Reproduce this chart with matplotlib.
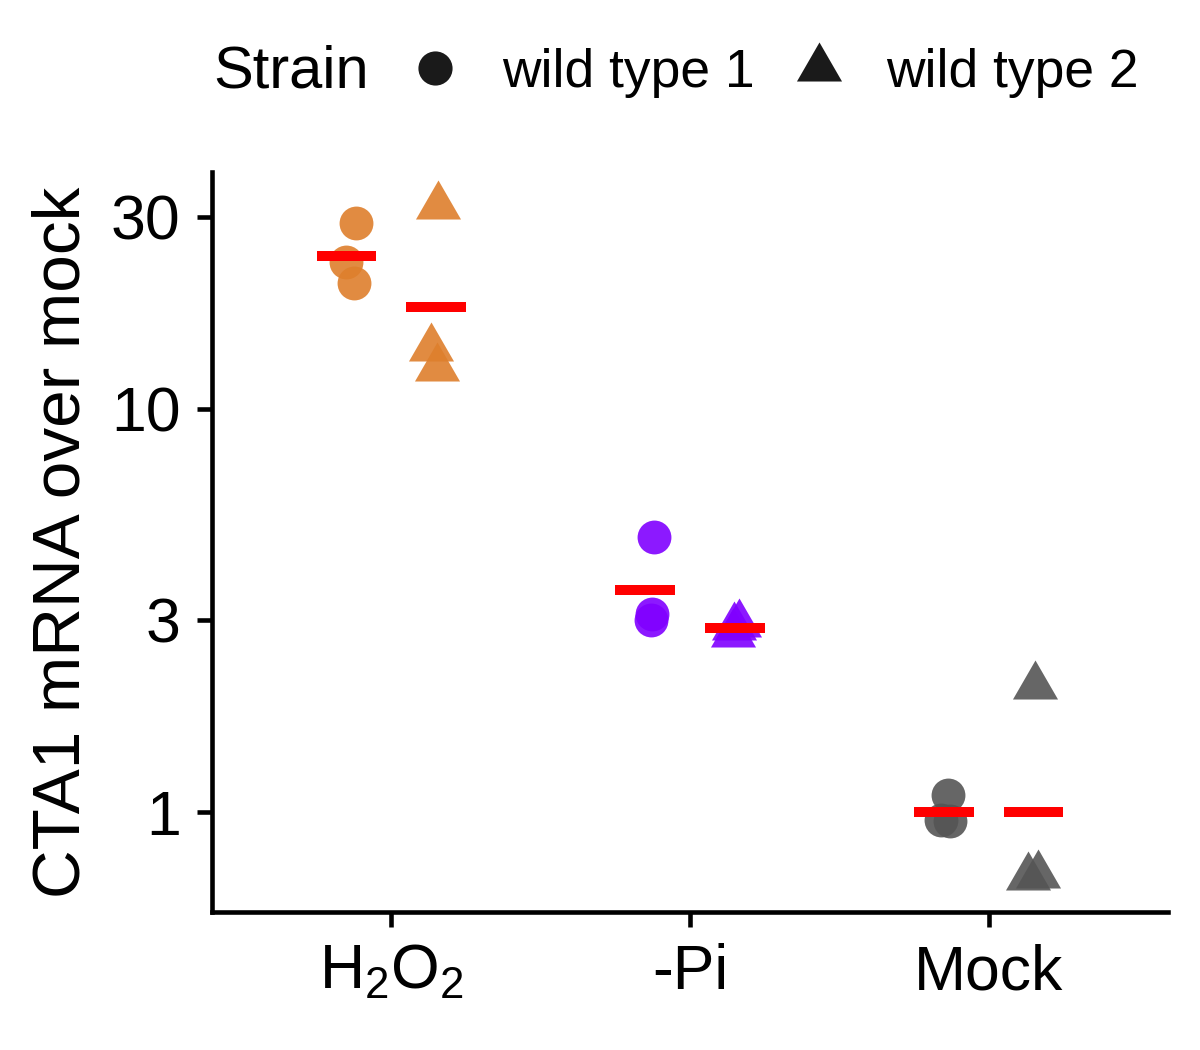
import numpy as np
import matplotlib
matplotlib.use("Agg")
import matplotlib.pyplot as plt
from matplotlib.path import Path
from matplotlib.lines import Line2D

plt.rcParams["font.family"] = ["Liberation Sans", "DejaVu Sans"]
plt.rcParams["mathtext.fontset"] = "custom"
plt.rcParams["mathtext.rm"] = "Liberation Sans"

# data (fold change over mock)
treatments = ["H2O2", "-Pi", "Mock"]
tick_labels = [r"H$_\mathregular{2}$O$_\mathregular{2}$", "-Pi", "Mock"]
strains = ["wild type 1", "wild type 2"]

h2o2_wt1 = [28.9, 23.2, 20.5]
h2o2_wt2 = [31.9, 14.15, 12.6]
pi_wt1 = [4.82, 3.10, 2.995]
pi_wt2 = [2.93, 2.88, 2.765]
mock_wt1 = [1.10, 0.953, 0.952]
mock_wt2 = [2.06, 0.69, 0.70]

# horizontal jitter of each point (category units), as seen in the picture
jit_h2o2_wt1 = [0.033, -0.003, 0.024]
jit_h2o2_wt2 = [0.006, -0.018, 0.002]
jit_pi_wt1 = [0.030, 0.024, 0.019]
jit_pi_wt2 = [0.013, -0.002, -0.005]
jit_mock_wt1 = [0.015, -0.011, 0.020]
jit_mock_wt2 = [0.005, -0.017, 0.014]

values = {
    ("H2O2", "wild type 1"): (h2o2_wt1, jit_h2o2_wt1),
    ("H2O2", "wild type 2"): (h2o2_wt2, jit_h2o2_wt2),
    ("-Pi", "wild type 1"): (pi_wt1, jit_pi_wt1),
    ("-Pi", "wild type 2"): (pi_wt2, jit_pi_wt2),
    ("Mock", "wild type 1"): (mock_wt1, jit_mock_wt1),
    ("Mock", "wild type 2"): (mock_wt2, jit_mock_wt2),
}

colors = {"H2O2": "#de7f2c", "-Pi": "#8000ff", "Mock": "#555555"}

# triangle centred on its centroid, like R's pch 17
tri = Path([(0, 1), (-0.866, -0.5), (0.866, -0.5), (0, 1)],
           [Path.MOVETO, Path.LINETO, Path.LINETO, Path.CLOSEPOLY])
markers = {"wild type 1": ("o", 66), "wild type 2": (tri, 156)}
dodge = {"wild type 1": -0.15, "wild type 2": 0.15}

fig = plt.figure(figsize=(4, 3.5), dpi=300)
ax = fig.add_axes([0.1767, 0.1314, 0.7966, 0.7048])

for i, t in enumerate(treatments):
    for s in strains:
        ys, jit = values[(t, s)]
        xs = i + dodge[s] + np.array(jit)
        m, size = markers[s]
        ax.scatter(xs, ys, marker=m, s=size, color=colors[t], alpha=0.9,
                   linewidths=0, zorder=2)
        gmean = 10 ** np.mean(np.log10(ys))
        xc = i + dodge[s]
        ax.hlines(gmean, xc - 0.1, xc + 0.1, color="#ff0000", linewidth=2.4,
                  capstyle="butt", zorder=3)

ax.set_yscale("log")
ax.set_ylim(0.565, 38.7)
ax.set_xlim(-0.6, 2.6)
ax.set_yticks([1, 3, 10, 30])
ax.set_yticklabels(["1", "3", "10", "30"])
ax.minorticks_off()
ax.set_xticks(range(len(treatments)))
ax.set_xticklabels(tick_labels)
ax.tick_params(axis="both", labelsize=15, width=1.1, length=3.5, color="black",
               labelcolor="black")
ax.tick_params(axis="y", pad=4)
ax.tick_params(axis="x", pad=4)
ax.set_ylabel("CTA1 mRNA over mock", fontsize=16.2, labelpad=4.3)

for side in ["top", "right"]:
    ax.spines[side].set_visible(False)
for side in ["left", "bottom"]:
    ax.spines[side].set_linewidth(1.1)

# legend across the top
fig.text(213 / 1200, 1 - 72 / 1050, "Strain", fontsize=14.3, va="center", ha="left")
handles = [
    Line2D([], [], linestyle="none", marker="o", markersize=8.2, color="#1a1a1a",
           markeredgewidth=0),
    Line2D([], [], linestyle="none", marker=tri, markersize=12.5, color="#1a1a1a",
           markeredgewidth=0),
]
fig.legend(handles, strains, loc="center left", bbox_to_anchor=(395 / 1200, 1 - 73 / 1050),
           ncol=2, frameon=False, fontsize=12.8, handlelength=1.5, handletextpad=0.5,
           columnspacing=0.47, borderaxespad=0, borderpad=0)

fig.savefig("out.png", dpi=300)
